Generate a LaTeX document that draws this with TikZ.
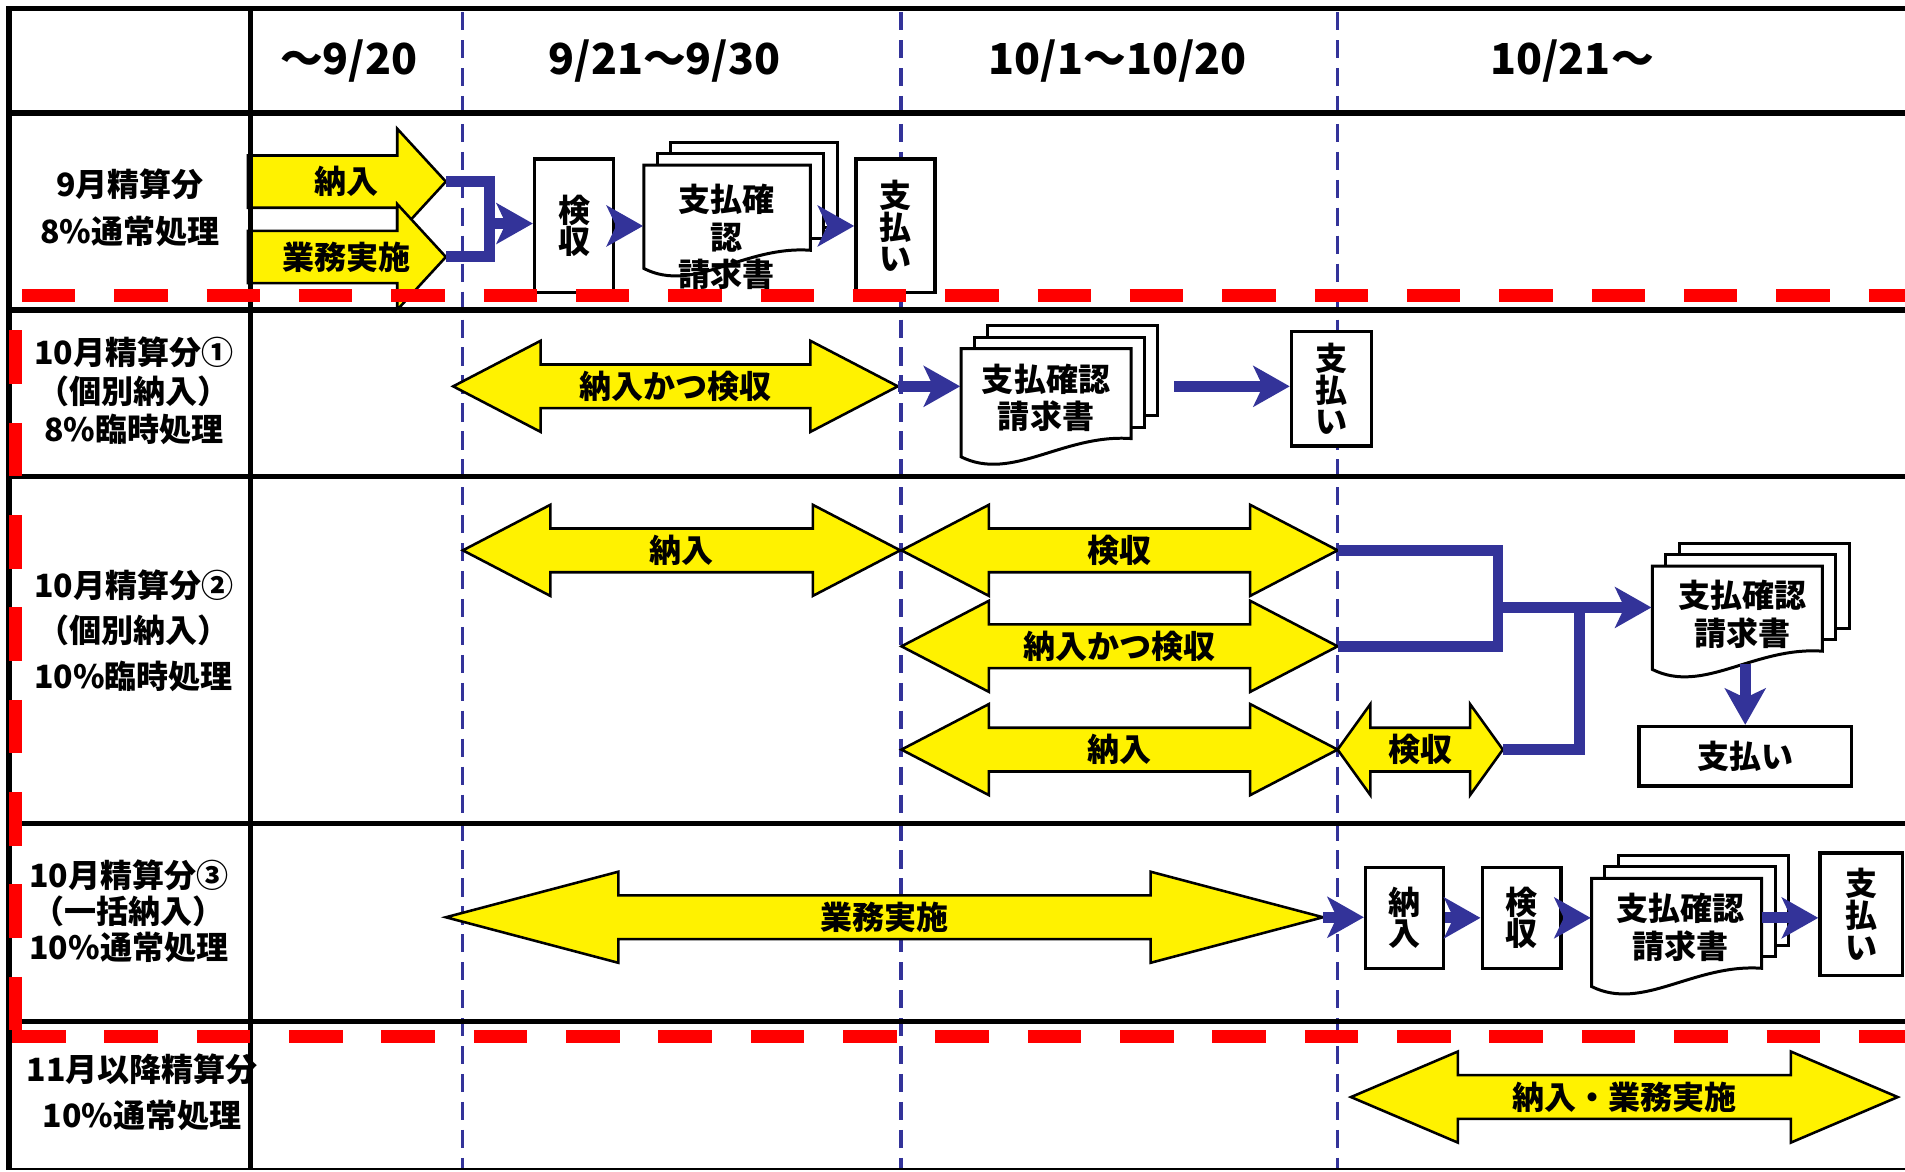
\documentclass[tikz,border=0pt]{standalone}
\usepackage{fontspec}
\setmainfont{Noto Sans CJK JP}
\usetikzlibrary{arrows.meta}
\newdimen\px \px=0.01cm
\definecolor{flowblue}{RGB}{51,51,153}
\definecolor{markred}{RGB}{255,0,0}

\tikzset{
  yarr/.style={draw=black, line width=0.6pt, fill=yellow, line join=miter},
  atxt/.style={font=\bfseries\fontsize{7.5}{8}\selectfont, inner sep=0},
  dtxt/.style={align=center, inner sep=0, font=\bfseries\fontsize{7.5}{8.8}\selectfont},
  hdr/.style={font=\bfseries\fontsize{10}{12}\selectfont, inner sep=0},
  lbl/.style={align=center, inner sep=0, font=\bfseries\fontsize{7.5}{#1}\selectfont},
  pbox/.style={draw, fill=white, line width=0.8pt, inner sep=0, align=center, font=\bfseries\fontsize{7.5}{7.4}\selectfont},
  page/.style={draw, fill=white, line width=0.7pt},
  bline/.style={draw=flowblue, line width=9\px, line join=miter},
  flow/.style={bline, -{Stealth[length=8.5pt, width=9.5pt, inset=2.2pt]}},
  gline/.style={line width=4.5\px},
  bdash/.style={flowblue, line width=3\px, dash pattern=on 15\px off 8\px},
  redd/.style={markred, line width=11\px, dash pattern=on 44\px off 32\px},
}

% yellow double arrow: name, left tip, right tip, y, head length, text
\newcommand{\twoway}[6]{%
  \draw[yarr] (#2,#4) -- ++(#5,-37.5) -- ++(0,19.5) -- ({#3-#5},{#4-18}) -- ++(0,-19.5) -- (#3,#4)
    -- ++({-#5},37.5) -- ++(0,-19.5) -- ({#2+#5},{#4+18}) -- ++(0,19.5) -- cycle;
  \node[atxt] (#1) at ({(#2+#3)/2},#4) {#6};
  \coordinate (#1-w) at (#2,#4);
  \coordinate (#1-e) at (#3,#4);
}
% yellow single arrow of the first row: name, y, text
\newcommand{\oneway}[3]{%
  \draw[yarr] (204,{#2-21.5}) -- (327,{#2-21.5}) -- (327,{#2-43.5}) -- (367,#2)
    -- (327,{#2+43.5}) -- (327,{#2+21.5}) -- (204,{#2+21.5}) -- cycle;
  \node[atxt] (#1) at (285,#2) {#3};
  \coordinate (#1-e) at (367,#2);
}
% stack of documents: name, left, top, width, height
\newcommand{\docstack}[5]{%
  \draw[page] ({#2+22},{#3-19}) rectangle ({#2+#4+22},{#3+#5-19});
  \draw[page] ({#2+11},{#3-9.5}) rectangle ({#2+#4+11},{#3+#5-9.5});
  \draw[page] (#2,#3) -- ({#2+#4},#3) -- ({#2+#4},{#3+#5})
    .. controls ({#2+0.6*#4},{#3+#5-4}) and ({#2+0.3*#4},{#3+#5+36}) .. (#2,{#3+#5+15}) -- cycle;
  \node[inner sep=0, minimum width=#4\px, minimum height=#5\px] (#1) at ({#2+#4/2},{#3+#5/2}) {};
}

\begin{document}
\begin{tikzpicture}[x=0.01cm, y=-0.01cm]
\useasboundingbox (0,0) rectangle (1568,964);
\fill[white] (0,0) rectangle (1568,964);
% date borders
\foreach \x in {380.6,741.8,1101} \draw[bdash] (\x,10) -- (\x,962);

% header
\node[hdr] (d1) at (287,50) {～9/20};
\node[hdr] (d2) at (547,50) {9/21～9/30};
\node[hdr] (d3) at (920,50) {10/1～10/20};
\node[hdr] (d4) at (1294,50) {10/21～};

% row labels
\node[lbl=10.8pt] (r1) at (107,171) {9月精算分\\8\%通常処理};
\node[lbl=9pt] (r2) at (110,322) {10月精算分①\\（個別納入）\\8\%臨時処理};
\node[lbl=10.6pt] (r3) at (110,519) {10月精算分②\\（個別納入）\\10\%臨時処理};
\node[lbl=8.5pt] (r4) at (106,750) {10月精算分③\\（一括納入）\\10\%通常処理};
\node[lbl=10.8pt] (r5) at (117,899) {11月以降精算分\\10\%通常処理};

% 9月
\oneway{nou1}{149.5}{納入}
\oneway{gyo1}{211.5}{業務実施}
\node[pbox, minimum width=65\px, minimum height=110\px] (ken1) at (472.5,186) {検\\収};
\docstack{doc1}{530}{136}{137}{70}
\node[dtxt] (doc1t) at (598,195) {支払確\\認\\請求書};
\node[pbox, minimum width=65\px, minimum height=110\px] (pay1) at (737,186) {支\\払\\い};
\coordinate (brk1) at (403,184);
\draw[bline] (nou1-e) -| (brk1) |- (gyo1-e);
\draw[flow] (brk1) -- (brk1 -| ken1.west);
\draw[flow] (ken1.east) -- (ken1.east -| doc1.west);
\draw[flow, shorten <=13\px] (doc1.east |- ken1.east) -- (pay1.west);

% 10月①
\twoway{nk2}{373}{739}{318}{72}{納入かつ検収}
\docstack{doc2}{791}{287}{140}{74}
\node[dtxt] (doc2t) at (861,327.5) {支払確認\\請求書};
\node[pbox, minimum width=66\px, minimum height=94\px] (pay2) at (1096,320) {支\\払\\い};
\draw[flow] (nk2-e) -- (nk2-e -| doc2.west);
\draw[flow, shorten <=35\px] (doc2.east |- nk2-e) -- (nk2-e -| pay2.west);

% 10月②
\twoway{nyu3}{381}{741}{453}{72}{納入}
\twoway{ken3}{742}{1101}{453}{72}{検収}
\twoway{nk3}{742}{1101}{532}{72}{納入かつ検収}
\twoway{nyu3b}{742}{1101}{617}{72}{納入}
\twoway{ken3b}{1101}{1237}{617}{27}{検収}
\docstack{doc3}{1360}{466}{140}{70}
\node[dtxt] (doc3t) at (1434,505.5) {支払確認\\請求書};
\node[pbox, minimum width=175\px, minimum height=49\px] (pay3) at (1436.5,622.5) {支払い};
\coordinate (j3a) at (1233,500);
\coordinate (j3b) at (1300,500);
\draw[bline] (ken3-e) -| (j3a) |- (nk3-e);
\draw[bline] (ken3b-e) -| (j3b);
\draw[flow] (j3a) -- (j3a -| doc3.west);
\draw[flow, shorten <=10\px] (doc3.south -| pay3.north) -- (pay3.north);

% 10月③
\twoway{gyo4}{367}{1089}{755}{142}{業務実施}
\node[pbox, minimum width=64\px, minimum height=83\px] (nou4) at (1156,755.5) {納\\入};
\node[pbox, minimum width=65\px, minimum height=83\px] (ken4) at (1252.5,755.5) {検\\収};
\docstack{doc4}{1310}{723}{140}{74}
\node[dtxt] (doc4t) at (1383,763.5) {支払確認\\請求書};
\node[pbox, minimum width=68\px, minimum height=101\px] (pay4) at (1532,752.5) {支\\払\\い};
\draw[flow] (gyo4-e) -- (gyo4-e -| nou4.west);
\draw[flow] (nou4.east) -- (nou4.east -| ken4.west);
\draw[flow] (ken4.east) -- (ken4.east -| doc4.west);
\draw[flow] (doc4.east |- ken4.east) -- (ken4.east -| pay4.west);

% 11月以降
\twoway{ng5}{1112}{1562}{903}{88}{納入・業務実施}

% table lines
\foreach \y in {7,93,255,392,678,841} \draw[gline] (5.5,\y) -- (1568,\y);
\draw[line width=2\px] (7.5,962) -- (1568,962);
\draw[gline] (7.5,5) -- (7.5,963);
\draw[gline] (206,5) -- (206,963);

% red frame
\draw[redd] (18,243) -- (1568,243);
\draw[redd] (13,272) -- (13,855);
\draw[redd] (10,853) -- (1568,853);
\end{tikzpicture}
\end{document}
